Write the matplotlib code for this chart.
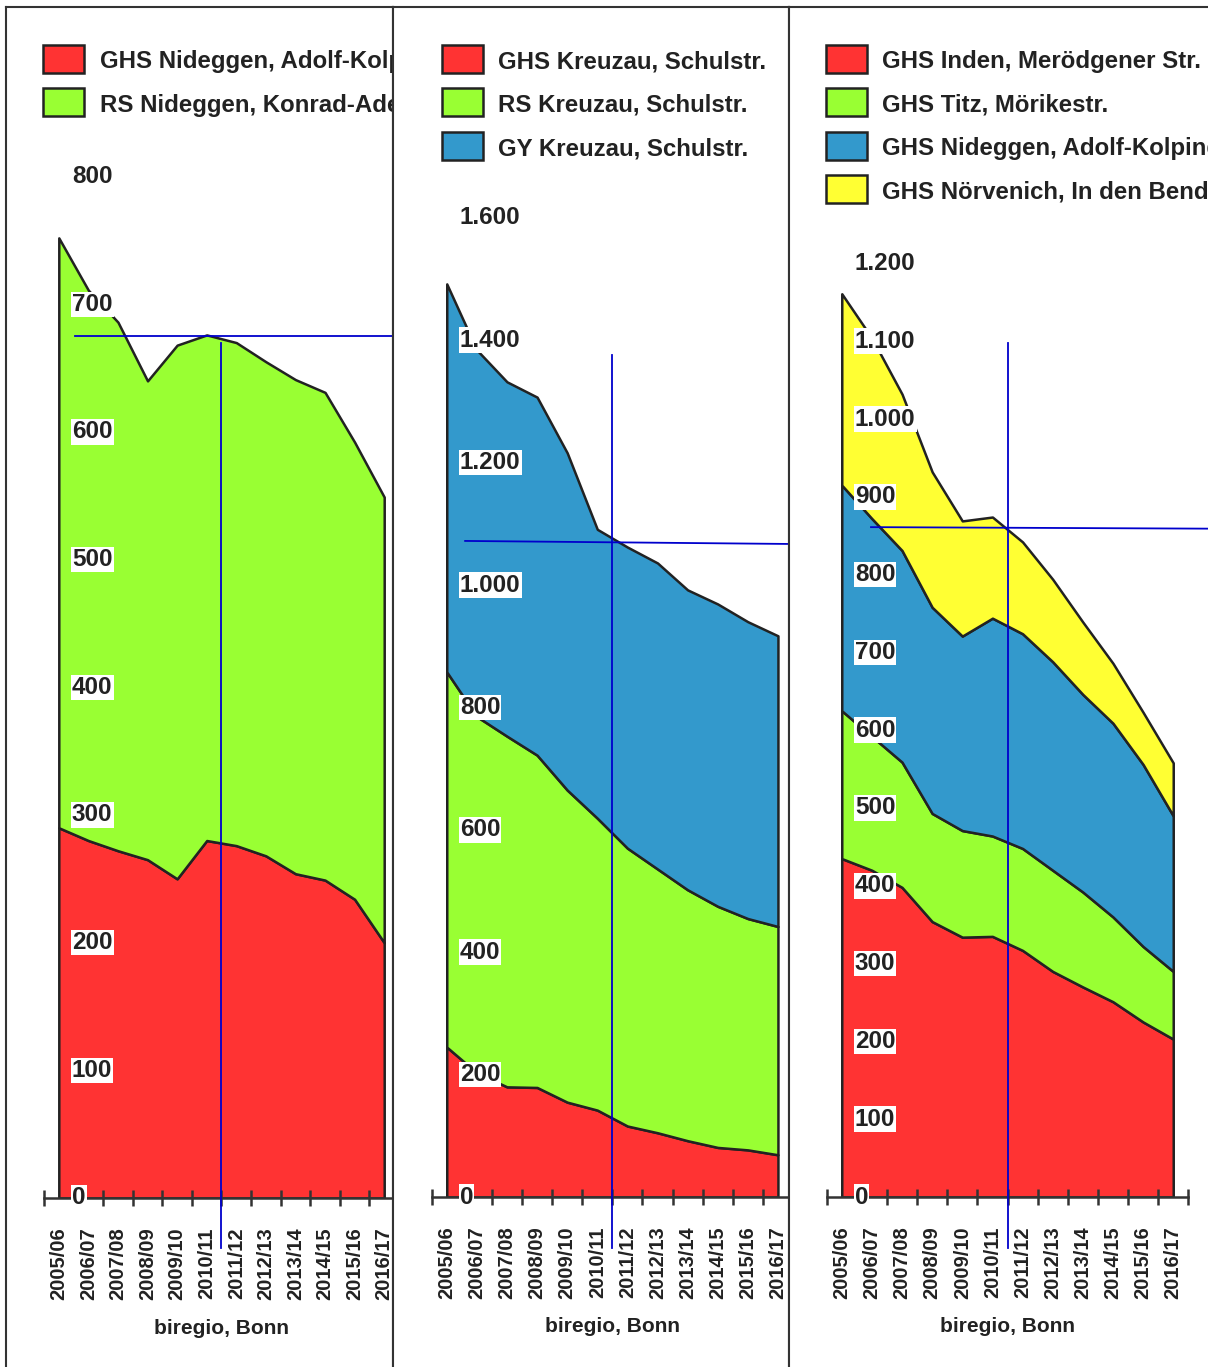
#!/usr/bin/env python3
import matplotlib
matplotlib.use("Agg")
import matplotlib.pyplot as plt
import matplotlib.transforms as mtransforms
from matplotlib.patches import Rectangle

# school years on the x axis
years = ['2005/06', '2006/07', '2007/08', '2008/09', '2009/10', '2010/11',
         '2011/12', '2012/13', '2013/14', '2014/15', '2015/16', '2016/17']

# pupils per school
ghs_nideggen = [290, 280, 272, 265, 250, 280, 276, 268, 254, 249, 234, 200]
rs_nideggen = [462, 431, 414, 375, 418, 396, 394, 387, 387, 382, 358, 349]

ghs_kreuzau = [245, 203, 180, 179, 155, 142, 116, 105, 92, 81, 77, 69]
rs_kreuzau = [613, 582, 573, 543, 510, 477, 454, 431, 410, 394, 378, 373]
gy_kreuzau = [634, 599, 579, 585, 551, 472, 492, 500, 490, 494, 485, 475]

ghs_inden = [435, 420, 398, 354, 334, 335, 317, 290, 270, 251, 225, 203]
ghs_titz = [190, 172, 161, 139, 137, 129, 131, 130, 122, 109, 97, 87]
ghs_noervenich = [246, 232, 201, 174, 148, 130, 118, 106, 93, 77, 67, 68]

labels_1 = ['GHS Nideggen, Adolf-Kolping-Str.', 'RS Nideggen, Konrad-Adenauer-Str.']
labels_2 = ['GHS Kreuzau, Schulstr.', 'RS Kreuzau, Schulstr.', 'GY Kreuzau, Schulstr.']
labels_3 = ['GHS Inden, Merödgener Str.', 'GHS Titz, Mörikestr.',
            'GHS Nideggen, Adolf-Kolping-Str.', 'GHS Nörvenich, In den Benden']

# crosshair marker left in the original (x position, vertical span, horizontal line)
cross_1 = dict(x=5.5, v=(-39, 670), h=(0.55, 11.5, 675, 675))
cross_2 = dict(x=5.5, v=(-83, 1376), h=(0.61, 11.5, 1072, 1067))
cross_3 = dict(x=5.5, v=(-65, 1098), h=(0.97, 12.5, 861, 859))

RED, GREEN, BLUE, YELLOW = '#ff3333', '#99ff33', '#3399cc', '#ffff33'
INK = '#222222'

W, H = 1208, 1367
plt.rcParams['font.family'] = ['Liberation Sans', 'DejaVu Sans']
plt.rcParams['font.weight'] = 'bold'

fig = plt.figure(figsize=(W / 100, H / 100), dpi=100)


def rect(left, top, right, bottom):
    return [left / W, 1 - bottom / H, (right - left) / W, (bottom - top) / H]


def fx(x):
    return x / W


def fy(y):
    return 1 - y / H


def fmt(v):
    return f"{v:,}".replace(',', '.')


def panel(i, frame_px, ax_px, legend_x, ymax, ystep, series, colors, labels, cross):
    frame = fig.add_axes(rect(*frame_px), zorder=2 * i)
    frame.set_xticks([])
    frame.set_yticks([])
    frame.set_facecolor('white')
    for sp in frame.spines.values():
        sp.set_color('#333333')
        sp.set_linewidth(1.5)

    ax = fig.add_axes(rect(*ax_px), zorder=2 * i + 1)
    ax.patch.set_visible(False)
    x = list(range(len(years)))
    ax.stackplot(x, *series, colors=colors, edgecolor=INK, linewidth=1.8)
    ax.set_xlim(-0.5, len(years) - 0.5)
    ax.set_ylim(0, ymax)

    for s in ['left', 'right', 'top']:
        ax.spines[s].set_visible(False)
    ax.spines['bottom'].set_color('#333333')
    ax.spines['bottom'].set_linewidth(1.8)
    ax.set_yticks([])

    ax.set_xticks([k - 0.5 for k in range(len(years) + 1)])
    ax.set_xticklabels([])
    ax.tick_params(axis='x', which='major', direction='inout', length=12,
                   width=1.8, color='#333333')
    ax.set_xticks(x, minor=True)
    ax.set_xticklabels(years, minor=True, rotation=90, fontsize=14.5,
                       fontweight='bold', color=INK)
    ax.tick_params(axis='x', which='minor', length=0, pad=21)

    # value labels inside the plot, on white boxes
    tr = mtransforms.offset_copy(ax.transData, fig=fig, x=13, y=0, units='dots')
    for v in range(0, ymax + 1, ystep):
        ax.text(0, v, fmt(v), transform=tr, ha='left', va='center',
                fontsize=17.5, fontweight='bold', color=INK, zorder=5,
                bbox=dict(facecolor='white', edgecolor='none', pad=0.8))

    lt = mtransforms.offset_copy(ax.transAxes, fig=fig, x=0, y=-130, units='dots')
    ax.text(0.5, 0, 'biregio, Bonn', transform=lt, ha='center', va='center',
            fontsize=15, fontweight='bold', color=INK)

    ax.plot([cross['x'], cross['x']], cross['v'], color='#0000cc', lw=1.3,
            clip_on=False, zorder=3)
    hx0, hx1, hy0, hy1 = cross['h']
    ax.plot([hx0, hx1], [hy0, hy1], color='#0000cc', lw=1.3, clip_on=False, zorder=3)

    # legend, one row per school
    for k, (c, lab) in enumerate(zip(colors, labels)):
        top = 45 + 43.4 * k
        ax.add_patch(Rectangle((fx(legend_x), fy(top + 28)), 40.5 / W, 28 / H,
                               transform=fig.transFigure, facecolor=c,
                               edgecolor=INK, linewidth=1.8, clip_on=False))
        ax.text(fx(legend_x + 56), fy(68.3 + 43.4 * k), lab,
                transform=fig.transFigure, ha='left', va='baseline',
                fontsize=17.3, fontweight='bold', color=INK, clip_on=False)
    return ax


panel(0, (6, 7, 393, 1400), (44, 176.6, 399, 1198), 43.5, 800, 100,
      [ghs_nideggen, rs_nideggen], [RED, GREEN], labels_1, cross_1)
panel(1, (393, 7, 789, 1400), (431.7, 217.8, 793.0, 1197), 442.3, 1600, 200,
      [ghs_kreuzau, rs_kreuzau, gy_kreuzau], [RED, GREEN, BLUE], labels_2, cross_2)
panel(2, (789, 7, 1240, 1400), (826.7, 263.4, 1188.3, 1197), 826.2, 1200, 100,
      [ghs_inden, ghs_titz, ghs_nideggen, ghs_noervenich],
      [RED, GREEN, BLUE, YELLOW], labels_3, cross_3)

fig.savefig('out.png', dpi=100)
